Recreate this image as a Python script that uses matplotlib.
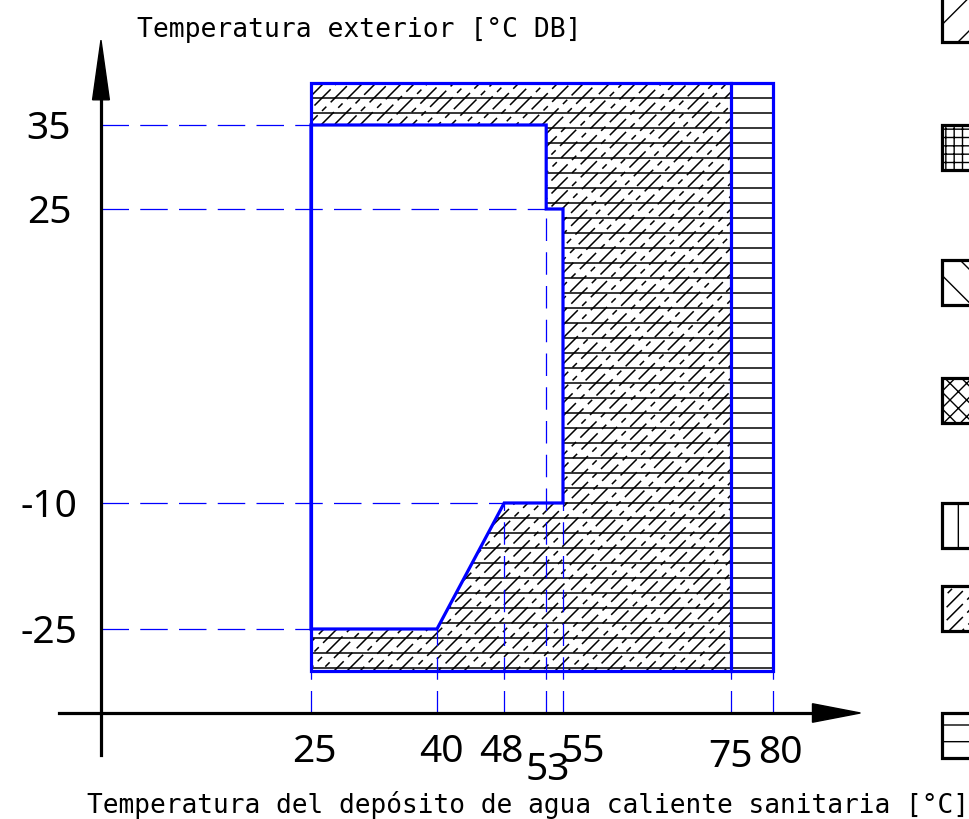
import matplotlib
matplotlib.use('Agg')
import numpy as np
import matplotlib.pyplot as plt
from matplotlib.patches import Polygon, Rectangle

# operating range data (°C)
water_min, water_max = 25, 80
water_backup = 75            # above this only the backup heater
outdoor_min, outdoor_max = -30, 40

# heat pump only region (water temp, outdoor temp)
hp_water = [25, 53, 53, 55, 55, 48, 40, 25]
hp_outdoor = [35, 35, 25, 25, -10, -10, -25, -25]

x_ticks = [25, 40, 48, 53, 55, 75, 80]
y_ticks = [35, 25, -10, -25]

# guide line ends for each tick
x_guide_top = {25: -30, 40: -25, 48: -10, 53: 25, 55: -10, 75: -30, 80: -30}
y_guide_end = {35: 25, 25: 53, -10: 48, -25: 25}

x_label = 'Temperatura del depósito de agua caliente sanitaria [°C]'
y_label = 'Temperatura exterior [°C DB]'

blue = '#0000ff'
plt.rcParams['hatch.linewidth'] = 1.0

fig = plt.figure(figsize=(9.7, 8.19), dpi=100)
ax = fig.add_axes([0, 0, 1, 1])
ax.set_xlim(-12.02, 103.45)
ax.set_ylim(-47.62, 49.88)
ax.axis('off')

# --- hatch inside the whole range box
box = Rectangle((water_min, outdoor_min), water_max - water_min, outdoor_max - outdoor_min,
                facecolor='white', edgecolor='none', zorder=1)
ax.add_patch(box)

step_h = 15 / 8.4
for yy in np.arange(outdoor_max - step_h, outdoor_min, -step_h):
    ln, = ax.plot([water_min, water_max], [yy, yy], color='black', lw=1.1, zorder=2)
    ln.set_clip_path(box)

hp_box = Rectangle((water_min, outdoor_min), water_backup - water_min, outdoor_max - outdoor_min,
                   facecolor='none', edgecolor='none', zorder=1)
ax.add_patch(hp_box)


def dashed_diagonals(ax, clip, x0, x1, y0, y1, step=13 / 8.4, z=2):
    offsets = [0, 11, 5, 17, 2, 13, 8, 20, 1, 10, 15, 6]
    span = y1 - y0
    xs = np.arange(x0 - span, x1 + step, step)
    for i, xs0 in enumerate(xs):
        ln, = ax.plot([xs0, xs0 + span], [y0, y1], color='black', lw=1.1,
                      linestyle=(offsets[i % len(offsets)], (15, 4, 4, 4)), zorder=z)
        ln.set_clip_path(clip)


dashed_diagonals(ax, hp_box, water_min, water_backup, outdoor_min, outdoor_max)

# --- white heat pump region on top
inner = Polygon(list(zip(hp_water, hp_outdoor)), closed=True, facecolor='white',
                edgecolor=blue, lw=2.3, zorder=3)
ax.add_patch(inner)

# --- guide lines
for xt in x_ticks:
    ax.plot([xt, xt], [-35, x_guide_top[xt]], color=blue, lw=0.9,
            linestyle=(0, (18, 9)), zorder=4)
for yt in y_ticks:
    ax.plot([0, y_guide_end[yt]], [yt, yt], color=blue, lw=0.9,
            linestyle=(0, (22, 9)), zorder=4)

# --- outline of the range box
ax.add_patch(Rectangle((water_min, outdoor_min), water_max - water_min, outdoor_max - outdoor_min,
                       facecolor='none', edgecolor=blue, lw=2.3, zorder=5))
ax.plot([water_backup, water_backup], [outdoor_min, outdoor_max], color=blue, lw=2.3, zorder=5)

# --- axes with arrows
ax.plot([-5, 85], [-35, -35], color='black', lw=2.3, zorder=6)
ax.fill([84.7, 90.4, 84.7], [-36.1, -35, -33.9], color='black', zorder=6)
ax.plot([0, 0], [-40, 39], color='black', lw=2.3, zorder=6)
ax.fill([-1.0, 0, 1.0], [38.0, 45.1, 38.0], color='black', zorder=6)

# --- tick labels
num_font = dict(family='Noto Sans', fontsize=28, color='black')
for yt in y_ticks:
    ax.text(-6.2, yt - 0.5, str(yt), ha='center', va='center', **num_font)
x_lab_pos = {25: (25.4, -39.6), 40: (40.5, -39.6), 48: (47.7, -39.6), 53: (53.2, -41.8),
             55: (57.3, -39.6), 75: (74.9, -40.2), 80: (80.9, -39.8)}
for xt in x_ticks:
    px, py = x_lab_pos[xt]
    ax.text(px, py, str(xt), ha='center', va='center', **num_font)

ax.text(4.3, 46.3, y_label, ha='left', va='center', family='DejaVu Sans Mono', fontsize=19)
ax.text(-1.7, -45.9, x_label, ha='left', va='center', family='DejaVu Sans Mono', fontsize=18.8)

# --- legend swatches (cut at the right edge)
icon_x = 100.1
icon_w = 8
icon_h = 45 / 8.4
icon_tops = [-3, 125, 260, 378, 503, 586, 713]
icon_hatch = ['/', '++', '\\', 'xx', '|', None, '-']
for top, hatch in zip(icon_tops, icon_hatch):
    y_top = -25 + (629 - top) / 8.4
    r = Rectangle((icon_x, y_top - icon_h), icon_w, icon_h, facecolor='white',
                  edgecolor='black', lw=2.3, hatch=hatch, zorder=6)
    ax.add_patch(r)
    if hatch is None:
        dashed_diagonals(ax, r, icon_x, icon_x + icon_w, y_top - icon_h, y_top, z=7)

fig.savefig('out.png', dpi=100)
